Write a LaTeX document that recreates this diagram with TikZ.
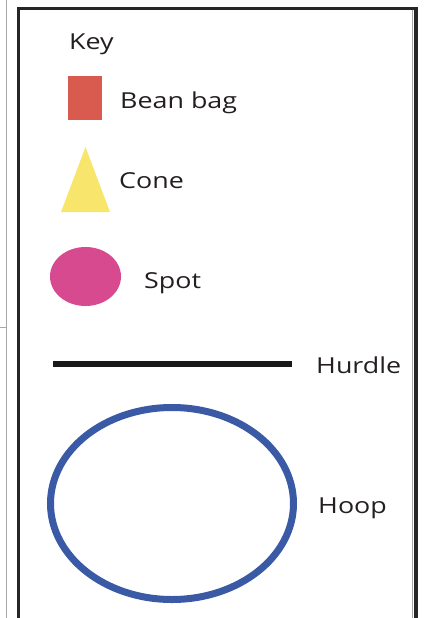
\documentclass[tikz,border=0pt]{standalone}
\usepackage{fontspec}
\setmainfont[FakeStretch=1.22]{Open Sans}
\usetikzlibrary{shapes.geometric}
\definecolor{bagred}{HTML}{D95B4F}
\definecolor{coneyellow}{HTML}{F7E66B}
\definecolor{spotpink}{HTML}{D84A8F}
\definecolor{hoopblue}{HTML}{3A5AA5}
\definecolor{edgegray}{HTML}{A8A8A8}
\definecolor{inkdark}{HTML}{231F20}
\tikzset{
  lbl/.style={font=\fontsize{22}{26}\selectfont, text=inkdark, inner sep=0pt, anchor=base west},
  frame/.style={line width=3.2pt, draw=black!85},
}
\begin{document}
\begin{tikzpicture}[x=1pt,y=-1pt]
\useasboundingbox[fill=white] (0,0) rectangle (423,618);
% outer thin gray lines
\draw[edgegray, line width=0.8pt] (6.5,0) -- (6.5,618);
\draw[edgegray, line width=1pt] (0,327) -- (6,327);
\draw[edgegray, line width=0.8pt] (412.5,10) -- (412.5,618);
% frame
\draw[frame] (18.5,620) -- (18.5,8.5) -- (416,8.5) -- (416,620);
% key
\node[lbl] (key) at (69,50) {Key};
\node[fill=bagred, minimum width=34pt, minimum height=44pt, inner sep=0pt] (bag) at (85,98) {};
\node[lbl] (bagl) at (120,108) {Bean bag};
\fill[coneyellow] (85.5,147) coordinate (cone) -- (110,212) -- (61,212) -- cycle;
\node[lbl] (conel) at (119,188) {Cone};
\node[fill=spotpink, ellipse, minimum width=71pt, minimum height=59pt, inner sep=0pt] (spot) at (85.5,276.5) {};
\node[lbl] (spotl) at (144,288) {Spot};
\coordinate (h1) at (53,364);
\coordinate (h2) at (292,364);
\draw[line width=6pt, black!90] (h1) -- (h2);
\node[lbl] (hurdlel) at (316,373) {Hurdle};
\node[draw=hoopblue, line width=7pt, ellipse, minimum width=243pt, minimum height=192pt, inner sep=0pt] (hoop) at (172,503.5) {};
\node[lbl] (hoopl) at (318,513) {Hoop};
\end{tikzpicture}
\end{document}
